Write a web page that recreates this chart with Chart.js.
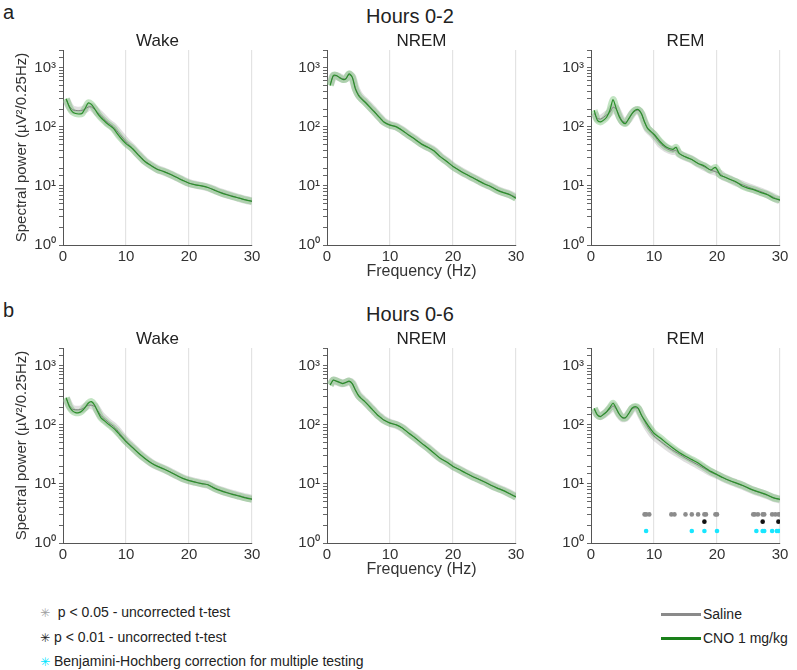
<!DOCTYPE html>
<html>
<head>
<meta charset="utf-8">
<script src="https://cdn.jsdelivr.net/npm/chart.js@4.4.0/dist/chart.umd.min.js"></script>
<style>
  body { margin: 0; background: #fff; font-family: 'Liberation Sans', Arial, sans-serif; color: #222; }
  #page { position: relative; width: 797px; height: 670px; overflow: hidden; }
  canvas { position: absolute; }
  .txt { position: absolute; white-space: nowrap; line-height: 1; }
  .label { font-size: 20px; }
  .head { font-size: 20px; transform: translateX(-50%); }
  .ptitle { font-size: 17px; transform: translateX(-50%); }
  .leg { font-family: 'Liberation Sans Narrow', 'Liberation Sans', Arial, sans-serif; font-size: 14px; }
  .star { font-family: 'DejaVu Sans', sans-serif; font-size: 12px; }
  .swatch { position: absolute; height: 3px; width: 40px; }
</style>
</head>
<body>
<div id="page">
  <div class="txt label" style="left:3px;top:2px;">a</div>
  <div class="txt head" style="left:410px;top:6px;">Hours 0-2</div>
  <div class="txt label" style="left:3px;top:300px;">b</div>
  <div class="txt head" style="left:410px;top:304px;">Hours 0-6</div>

  <div class="txt leg" style="left:40px;top:605px;"><span class="star" style="color:#a0a0a0;">✳</span>&nbsp; p &lt; 0.05 - uncorrected t-test</div>
  <div class="txt leg" style="left:40px;top:630px;"><span class="star" style="color:#222;">✳</span> p &lt; 0.01 - uncorrected t-test</div>
  <div class="txt leg" style="left:40px;top:654px;"><span class="star" style="color:#00e5ff;">✳</span> Benjamini-Hochberg correction for multiple testing</div>

  <div class="swatch" style="left:661px;top:613px;background:#8a8a8a;"></div>
  <div class="txt leg" style="left:703px;top:607px;">Saline</div>
  <div class="swatch" style="left:661px;top:637px;background:#1a801a;"></div>
  <div class="txt leg" style="left:703px;top:631px;">CNO 1 mg/kg</div>
</div>
<script>
// frequency bins (Hz)
const freqs = [0.5, 1, 1.5, 2, 2.5, 3, 3.5, 4, 4.5, 5, 5.5, 6, 6.5, 7, 7.5, 8, 8.5, 9,
  10, 11, 12, 13, 14, 15, 16, 17, 18, 19, 20, 21, 22, 23, 24, 25, 26, 27, 28, 29, 30];
const freqsRemA = [0.5, 1, 1.5, 2, 2.5, 3, 3.5, 4, 4.5, 5, 5.5, 6, 6.5, 7, 7.5, 8, 8.5, 9,
  10, 11, 12, 13, 13.5, 14, 15, 16, 17, 18, 19, 19.75, 20.5, 21, 22, 23, 24, 25, 26, 27, 28, 29, 30];

// Hours 0-2
const wakeA_saline = [290, 225, 195, 190, 188, 190, 200, 217, 218, 198, 175, 157, 138, 121, 110, 100, 87, 75,
  56, 44, 34, 26.5, 22.3, 19.3, 17.6, 15.9, 14.1, 12.5, 11.2, 10.5, 10, 9.4, 8.6, 7.8, 7.2, 6.7, 6.2, 5.8, 5.5];
const wakeA_cno = [300, 217, 179, 168, 165, 168, 204, 254, 240, 204, 168, 144, 128, 114, 104, 94, 80, 68,
  52, 43, 33, 26, 22, 19, 17.5, 15.8, 14, 12.4, 11.1, 10.4, 10, 9.4, 8.5, 7.7, 7.1, 6.6, 6.2, 5.8, 5.5];
const nremA_saline = [520, 720, 730, 690, 650, 660, 760, 700, 460, 355, 305, 272, 238, 210, 185, 160, 140, 123,
  108, 101, 87, 73, 62, 52, 45.5, 39.5, 31.5, 26.3, 21.5, 18.5, 16, 14.1, 12.4, 10.9, 9.8, 8.6, 7.8, 7.2, 6.4];
const nremA_cno = [500, 740, 740, 680, 635, 650, 790, 695, 440, 340, 295, 264, 232, 204, 180, 157, 138, 121,
  107, 100, 86, 72, 61, 51, 45, 39, 31, 26, 21.3, 18.3, 15.9, 14, 12.3, 10.8, 9.7, 8.5, 7.7, 7.1, 6.2];
const remA_saline = [170, 140, 135, 145, 160, 175, 215, 200, 155, 125, 120, 135, 165, 185, 190, 165, 120, 92,
  72, 52, 43, 39, 40, 35, 31, 28, 24, 21, 18.5, 17.5, 16, 14.5, 13, 11.5, 10.5, 9.5, 8.7, 8, 7.2, 6.4, 5.6];
const remA_cno = [191, 130, 121, 130, 147, 191, 289, 204, 147, 121, 114, 138, 168, 191, 196, 168, 121, 94,
  75, 56, 45, 41.5, 45, 35.5, 31, 28, 24, 21.8, 18.6, 20.6, 15.3, 14.4, 13, 11.8, 10, 9.1, 8.5, 7.7, 7.1, 6.2, 5.8];

// Hours 0-6
const wakeB_saline = [280, 215, 185, 180, 180, 185, 200, 215, 215, 205, 175, 145, 128, 115, 104, 95, 84, 72,
  54, 42.5, 33.5, 27.3, 22.8, 20, 18, 16, 14.1, 12.5, 11.5, 10.8, 10.2, 9.7, 8.6, 7.8, 7.2, 6.7, 6.3, 5.9, 5.6];
const wakeB_cno = [289, 204, 172, 161, 161, 172, 196, 232, 247, 217, 168, 133, 119, 107, 97, 88, 78, 68,
  52, 41.5, 33, 27, 22.6, 19.8, 17.9, 15.9, 14, 12.4, 11.4, 10.7, 10.1, 9.7, 8.5, 7.7, 7.1, 6.6, 6.2, 5.8, 5.5];
const nremB_saline = [480, 565, 545, 520, 505, 520, 540, 505, 395, 318, 280, 250, 220, 193, 170, 149, 135, 122,
  108, 100, 88, 72.5, 60.5, 49.5, 41, 33.3, 27.3, 23.7, 20, 17.6, 15.4, 13.6, 12.2, 10.9, 9.6, 8.6, 7.8, 6.9, 6.1];
const nremB_cno = [470, 574, 550, 524, 500, 524, 550, 500, 388, 312, 275, 247, 218, 191, 168, 147, 133, 121,
  107, 100, 88, 72, 60, 49, 40.5, 33, 27, 23.5, 19.8, 17.5, 15.3, 13.5, 12.1, 10.8, 9.5, 8.5, 7.7, 6.8, 6.0];
const remB_saline = [185, 150, 140, 150, 165, 185, 210, 185, 150, 130, 132, 155, 185, 195, 185, 145, 115, 92,
  65, 53, 44, 37, 32, 27.5, 24, 21, 18.2, 15.8, 14.2, 12.6, 11.3, 10.3, 9.4, 8.4, 7.6, 7, 6.4, 5.8, 5.4];
const remB_cno = [191, 147, 138, 151, 168, 196, 232, 191, 151, 133, 133, 157, 191, 204, 191, 147, 120, 100,
  72, 60, 49, 40.5, 34, 29.4, 25.8, 22.6, 19.1, 16.3, 14.4, 12.7, 11.4, 10.4, 9.5, 8.5, 7.7, 7.1, 6.5, 5.8, 5.5];

// significance markers (REM, hours 0-6)
const sigP05 = [8.5, 8.75, 9.25, 12.75, 13.25, 15, 16, 17, 18, 18.25, 19.75, 20, 25.75, 26, 26.5, 27.25, 27.5, 28.75, 29.25, 29.75, 30];
const sigP01 = [18, 27.25, 29.75];
const sigBH = [8.75, 16, 18, 20, 26.25, 27.25, 27.5, 28.75, 29.5, 29.75];
const sigLevels = { p05: 3.05, p01: 2.3, bh: 1.6 };

const stageTitles = ['Wake', 'NREM', 'REM'];
const yTickText = { 1: '10⁰', 10: '10¹', 100: '10²', 1000: '10³' };

Chart.defaults.font.family = "'Liberation Sans', Arial, sans-serif";
Chart.defaults.color = '#333';

const PLOT_W = 189, PLOT_H = 195, AXIS_W = 63, AXIS_H = 40, PAD_T = 12, PAD_R = 14;
const colLeft = [63, 327, 591];
const rowTop = [50, 348];

function pairs(xs, ys) {
  return xs.map((x, i) => ({ x: x, y: ys[i] }));
}

function makePanel(row, col, xs, saline, cno, extra) {
  const page = document.getElementById('page');
  const canvas = document.createElement('canvas');
  canvas.width = AXIS_W + PLOT_W + PAD_R;
  canvas.height = PAD_T + PLOT_H + AXIS_H;
  canvas.style.left = (colLeft[col] - AXIS_W) + 'px';
  canvas.style.top = (rowTop[row] - PAD_T) + 'px';
  page.appendChild(canvas);

  const t = document.createElement('div');
  t.className = 'txt ptitle';
  t.textContent = stageTitles[col];
  t.style.left = (colLeft[col] + PLOT_W / 2) + 'px';
  t.style.top = (rowTop[row] - 18) + 'px';
  page.appendChild(t);

  // wide translucent strokes stand in for the SEM shading
  const datasets = [
    { data: pairs(xs, saline), borderColor: 'rgba(175,175,175,0.4)', borderWidth: 8, order: 5 },
    { data: pairs(xs, cno), borderColor: 'rgba(95,185,95,0.38)', borderWidth: 7, order: 4 },
    { data: pairs(xs, saline), borderColor: '#7d7d7d', borderWidth: 1, order: 3 },
    { data: pairs(xs, cno), borderColor: '#2b8f2b', borderWidth: 1.2, order: 2 }
  ];
  datasets.forEach(d => { d.type = 'line'; d.pointRadius = 0; d.tension = 0.25; d.fill = false; });
  if (extra) extra.forEach(d => datasets.push(d));

  new Chart(canvas, {
    type: 'line',
    data: { datasets: datasets },
    options: {
      responsive: false,
      devicePixelRatio: 1,
      animation: false,
      layout: { padding: { top: PAD_T, right: PAD_R, left: 0, bottom: 0 } },
      plugins: { legend: { display: false }, tooltip: { enabled: false } },
      scales: {
        x: {
          type: 'linear', min: 0, max: 30,
          ticks: { stepSize: 10, font: { size: 15 }, color: '#333', padding: 3, maxRotation: 0 },
          grid: {
            drawTicks: false,
            color: ctx => ctx.tick && ctx.tick.value === 0 ? 'rgba(0,0,0,0)' : '#e3e3e3',
            lineWidth: 1.2
          },
          border: { display: true, color: '#555', width: 1 },
          title: { display: col === 1, text: 'Frequency (Hz)', font: { size: 16 }, color: '#333', padding: { top: 4, bottom: 4 } },
          afterFit: s => { s.height = AXIS_H; }
        },
        y: {
          type: 'logarithmic', min: 1, max: 2000,
          ticks: {
            autoSkip: false, font: { size: 15 }, color: '#333', padding: 3,
            callback: v => yTickText[v] || ''
          },
          grid: { drawOnChartArea: false, drawTicks: true, tickLength: 4, color: '#666' },
          border: { display: true, color: '#555', width: 1 },
          title: {
            display: col === 0, text: 'Spectral power (µV²/0.25Hz)',
            font: { size: 15 }, color: '#333', padding: { top: 13, bottom: 0 }
          },
          afterFit: s => { s.width = AXIS_W; }
        }
      }
    }
  });
}

function sigSet(xs, level, color) {
  return {
    type: 'scatter', order: 1, data: xs.map(x => ({ x: x, y: level })),
    pointRadius: 2.3, pointBorderWidth: 0, pointBackgroundColor: color, showLine: false
  };
}

makePanel(0, 0, freqs, wakeA_saline, wakeA_cno);
makePanel(0, 1, freqs, nremA_saline, nremA_cno);
makePanel(0, 2, freqsRemA, remA_saline, remA_cno);
makePanel(1, 0, freqs, wakeB_saline, wakeB_cno);
makePanel(1, 1, freqs, nremB_saline, nremB_cno);
makePanel(1, 2, freqs, remB_saline, remB_cno, [
  sigSet(sigP05, sigLevels.p05, '#8c8c8c'),
  sigSet(sigP01, sigLevels.p01, '#111'),
  sigSet(sigBH, sigLevels.bh, '#18e6ff')
]);
</script>
</body>
</html>
